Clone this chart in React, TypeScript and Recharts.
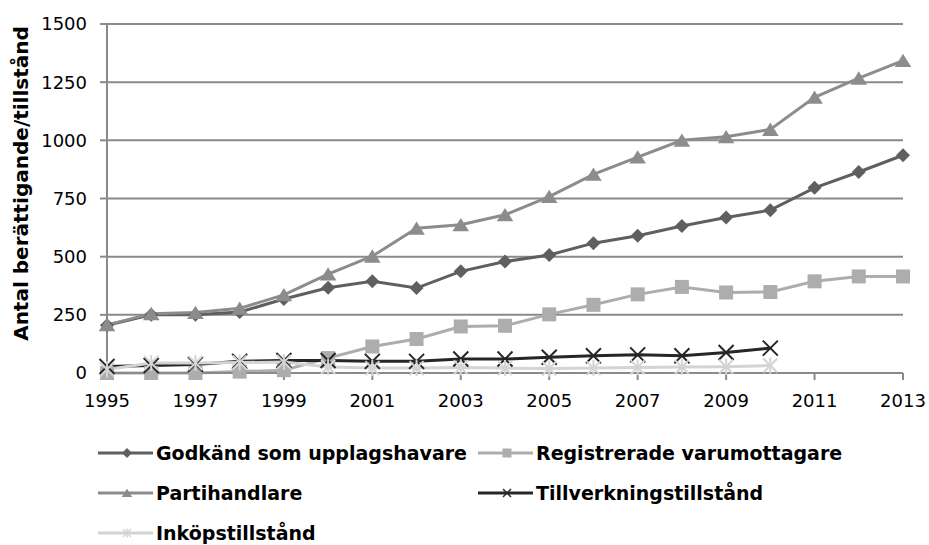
import React from 'react';
import { LineChart, Line, XAxis, YAxis, CartesianGrid } from 'recharts';

const years = [1995, 1996, 1997, 1998, 1999, 2000, 2001, 2002, 2003, 2004, 2005, 2006, 2007, 2008, 2009, 2010, 2011, 2012, 2013];
const godkand = [205, 250, 250, 262, 318, 366, 394, 365, 437, 479, 507, 558, 590, 632, 668, 700, 796, 864, 936];
const registrerade = [0, 0, 0, 6, 12, 64, 114, 146, 200, 203, 252, 293, 338, 370, 346, 348, 394, 415, 415];
const partihandlare = [207, 255, 260, 278, 336, 425, 502, 622, 637, 680, 758, 854, 928, 1000, 1015, 1047, 1185, 1267, 1343];
const tillverkning = [28, 32, 37, 50, 54, 54, 50, 50, 60, 60, 68, 74, 78, 74, 88, 107, null, null, null];
const inkop = [15, 43, 43, 45, 47, 26, 21, 21, 24, 21, 19, 21, 24, 26, 27, 32, null, null, null];
const xTicks = [1995, 1997, 1999, 2001, 2003, 2005, 2007, 2009, 2011, 2013];
const yTicks = [0, 250, 500, 750, 1000, 1250, 1500];

const seriesDefs = [
  { key: 'godkand', name: 'Godkänd som upplagshavare', color: '#5f5f5f', shape: 'diamond', values: godkand },
  { key: 'registrerade', name: 'Registrerade varumottagare', color: '#adadad', shape: 'square', values: registrerade },
  { key: 'partihandlare', name: 'Partihandlare', color: '#8c8c8c', shape: 'triangle', values: partihandlare },
  { key: 'tillverkning', name: 'Tillverkningstillstånd', color: '#262626', shape: 'x', values: tillverkning },
  { key: 'inkop', name: 'Inköpstillstånd', color: '#d4d4d4', shape: 'star', values: inkop },
];

const data = years.map((y, i) => {
  const row: any = { year: y };
  seriesDefs.forEach((s) => { row[s.key] = s.values[i]; });
  return row;
});

function Marker({ cx, cy, shape, color, s, sw = 2 }: any) {
  if (cx == null || cy == null || isNaN(cx) || isNaN(cy)) return null;
  switch (shape) {
    case 'diamond':
      return <polygon points={`${cx},${cy - s} ${cx + s},${cy} ${cx},${cy + s} ${cx - s},${cy}`} fill={color} />;
    case 'square':
      return <rect x={cx - s} y={cy - s} width={s * 2} height={s * 2} fill={color} />;
    case 'triangle':
      return <polygon points={`${cx},${cy - s * 0.95} ${cx + s * 1.15},${cy + s * 0.9} ${cx - s * 1.15},${cy + s * 0.9}`} fill={color} />;
    case 'x':
      return (
        <g stroke={color} strokeWidth={sw}>
          <line x1={cx - s} y1={cy - s} x2={cx + s} y2={cy + s} />
          <line x1={cx - s} y1={cy + s} x2={cx + s} y2={cy - s} />
        </g>
      );
    case 'star':
      return (
        <g stroke={color} strokeWidth={sw}>
          <line x1={cx - s} y1={cy - s} x2={cx + s} y2={cy + s} />
          <line x1={cx - s} y1={cy + s} x2={cx + s} y2={cy - s} />
          <line x1={cx} y1={cy - s * 1.15} x2={cx} y2={cy + s * 1.15} />
        </g>
      );
    default:
      return null;
  }
}

const markerSize: any = { diamond: 7, square: 7, triangle: 7.2, x: 7.5, star: 7 };
const legendMarkerSize: any = { diamond: 5, square: 4.5, triangle: 4.5, x: 4, star: 4 };

const tickStyle = { fontFamily: 'DejaVu Sans', fontSize: 18, fill: '#000' };

function YLabel({ viewBox }: any) {
  const x = viewBox.x + 21;
  const y = viewBox.y + viewBox.height / 2 - 15;
  return (
    <text x={x} y={y} transform={`rotate(-90, ${x}, ${y})`} textAnchor="middle" dominantBaseline="central"
      style={{ fontFamily: 'DejaVu Sans', fontWeight: 'bold', fontSize: 20, fill: '#000' }}>
      Antal berättigande/tillstånd
    </text>
  );
}

function LegendBox() {
  return (
    <div style={{ position: 'absolute', left: 98, top: 433, width: 800, display: 'grid', gridTemplateColumns: '380px 400px', rowGap: 0 }}>
      {seriesDefs.map((s) => (
        <div key={s.key} style={{ display: 'flex', alignItems: 'center', height: 40 }}>
          <svg width={55} height={16} style={{ flex: 'none' }}>
            <line x1={0} y1={8} x2={55} y2={8} stroke={s.color} strokeWidth={3} />
            <Marker cx={29} cy={8} shape={s.shape} color={s.color} s={legendMarkerSize[s.shape]} sw={1.5} />
          </svg>
          <span style={{ fontFamily: '"DejaVu Sans", sans-serif', fontWeight: 'bold', fontSize: 19, color: '#000', marginLeft: 3, whiteSpace: 'nowrap' }}>
            {s.name}
          </span>
        </div>
      ))}
    </div>
  );
}

export default function App() {
  return (
    <div style={{ position: 'absolute', left: 0, top: 0, width: 929, height: 545, background: '#fff' }}>
      <LineChart width={929} height={545} data={data} margin={{ top: 24, right: 26, left: 0, bottom: 141 }}>
        <CartesianGrid vertical={false} stroke="#8a8a8a" strokeWidth={2} />
        <XAxis dataKey="year" type="number" domain={[1995, 2013]} ticks={xTicks} interval={0}
          axisLine={{ stroke: '#8a8a8a', strokeWidth: 2 }} tickLine={{ stroke: '#8a8a8a', strokeWidth: 2 }}
          tickSize={7} tickMargin={14} height={31} tick={tickStyle} />
        <YAxis type="number" domain={[0, 1500]} ticks={yTicks} interval={0} width={107}
          axisLine={{ stroke: '#8a8a8a', strokeWidth: 2 }} tickLine={{ stroke: '#8a8a8a', strokeWidth: 2 }}
          tickSize={7} tickMargin={13} tick={tickStyle} label={<YLabel />} />
        {seriesDefs.map((s) => (
          <Line key={s.key} type="linear" dataKey={s.key} name={s.name} stroke={s.color} strokeWidth={3}
            isAnimationActive={false}
            dot={(p: any) => <Marker key={`${s.key}-${p.index}`} cx={p.cx} cy={p.cy} shape={s.shape} color={s.color} s={markerSize[s.shape]} />}
            activeDot={false} />
        ))}
      </LineChart>
      <LegendBox />
    </div>
  );
}
